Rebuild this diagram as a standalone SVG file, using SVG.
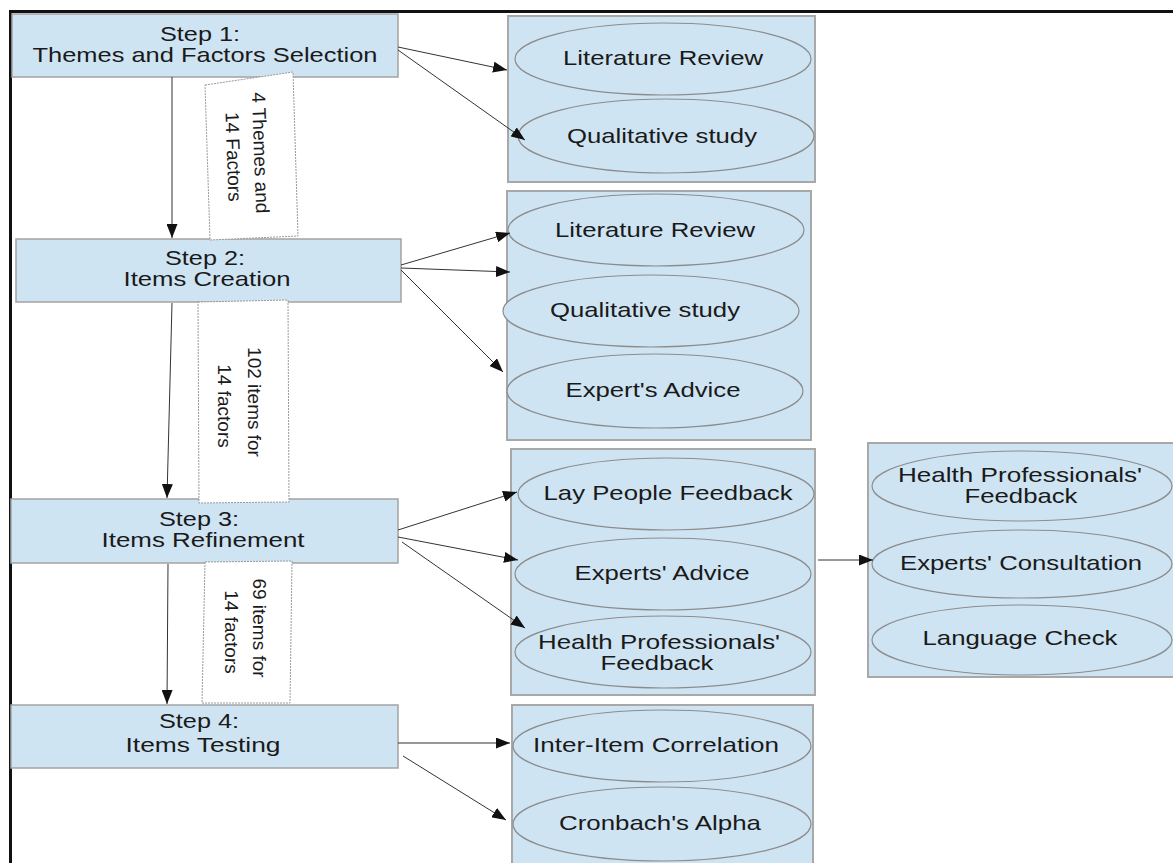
<svg xmlns="http://www.w3.org/2000/svg" width="1173" height="863" viewBox="0 0 1173 863">
<defs>
<style>
.step{fill:#cfe4f3;stroke:#a3a3a3;stroke-width:1.5}
.cont{fill:#cfe4f3;stroke:#a8a8a8;stroke-width:2}
.ell{fill:#cfe4f3;stroke:#8c8c8c;stroke-width:1.2}
.lbl{fill:#ffffff;stroke:#9a9a9a;stroke-width:1;stroke-dasharray:2 1}
text{font-family:"Liberation Sans",Arial,sans-serif;font-size:21px;fill:#1a1a1a}
.t{text-anchor:middle}
.r{font-size:19px;text-anchor:middle}
.c{fill:none;stroke:#333;stroke-width:1}
</style>
<marker id="ah" markerUnits="userSpaceOnUse" markerWidth="15" markerHeight="11" refX="14" refY="5.5" orient="auto">
<path d="M0,0 L14,5.5 L0,11 z" fill="#111"/>
</marker>
</defs>
<rect width="1173" height="863" fill="#ffffff"/>
<path d="M10.5,863 V11.5 H1173" fill="none" stroke="#111" stroke-width="3"/>

<g id="step1">
<rect class="step" x="12" y="14" width="386" height="63"/>
<text class="t" x="200" y="41" textLength="80" lengthAdjust="spacingAndGlyphs">Step 1:</text>
<text class="t" x="205" y="62" textLength="345" lengthAdjust="spacingAndGlyphs">Themes and Factors Selection</text>
</g>
<g id="step2">
<rect class="step" x="16" y="239" width="385" height="63"/>
<text class="t" x="205" y="265" textLength="80" lengthAdjust="spacingAndGlyphs">Step 2:</text>
<text class="t" x="207" y="286" textLength="167" lengthAdjust="spacingAndGlyphs">Items Creation</text>
</g>
<g id="step3">
<rect class="step" x="11" y="499" width="387" height="64"/>
<text class="t" x="199" y="526" textLength="80" lengthAdjust="spacingAndGlyphs">Step 3:</text>
<text class="t" x="203" y="547" textLength="203" lengthAdjust="spacingAndGlyphs">Items Refinement</text>
</g>
<g id="step4">
<rect class="step" x="11" y="705" width="387" height="63"/>
<text class="t" x="199" y="728" textLength="80" lengthAdjust="spacingAndGlyphs">Step 4:</text>
<text class="t" x="203" y="752" textLength="155" lengthAdjust="spacingAndGlyphs">Items Testing</text>
</g>

<g id="label1">
<polygon class="lbl" points="205,85 293,72 298,236 210,240"/>
<text class="r" transform="translate(254,153) rotate(88)">4 Themes and</text>
<text class="r" transform="translate(227,157) rotate(88)">14 Factors</text>
</g>
<g id="label2">
<polygon class="lbl" points="198,302 288,300 289,502 199,503"/>
<text class="r" transform="translate(248,402) rotate(90)">102 items for</text>
<text class="r" transform="translate(218,406) rotate(90)">14 factors</text>
</g>
<g id="label3">
<polygon class="lbl" points="205,562 292,561 290,703 202,703"/>
<text class="r" transform="translate(253,628) rotate(90)">69 items for</text>
<text class="r" transform="translate(225,632) rotate(90)">14 factors</text>
</g>

<g id="group1">
<rect class="cont" x="508" y="16" width="307" height="166"/>
<g id="g1-lit"><ellipse class="ell" cx="663" cy="59" rx="148" ry="36"/>
<text class="t" x="663" y="65" textLength="200" lengthAdjust="spacingAndGlyphs">Literature Review</text></g>
<g id="g1-qual"><ellipse class="ell" cx="666" cy="136" rx="148" ry="37"/>
<text class="t" x="662" y="143" textLength="190" lengthAdjust="spacingAndGlyphs">Qualitative study</text></g>
</g>

<g id="group2">
<rect class="cont" x="507" y="191" width="304" height="249"/>
<g id="g2-lit"><ellipse class="ell" cx="656" cy="230" rx="148" ry="36"/>
<text class="t" x="655" y="237" textLength="200" lengthAdjust="spacingAndGlyphs">Literature Review</text></g>
<g id="g2-qual"><ellipse class="ell" cx="651" cy="311" rx="148" ry="36"/>
<text class="t" x="645" y="317" textLength="190" lengthAdjust="spacingAndGlyphs">Qualitative study</text></g>
<g id="g2-exp"><ellipse class="ell" cx="655" cy="391" rx="148" ry="37"/>
<text class="t" x="653" y="397" textLength="175" lengthAdjust="spacingAndGlyphs">Expert's Advice</text></g>
</g>

<g id="group3">
<rect class="cont" x="511" y="449" width="304" height="246"/>
<g id="g3-lay"><ellipse class="ell" cx="666" cy="494" rx="148" ry="36"/>
<text class="t" x="668" y="500" textLength="249" lengthAdjust="spacingAndGlyphs">Lay People Feedback</text></g>
<g id="g3-exp"><ellipse class="ell" cx="663" cy="574" rx="148" ry="36"/>
<text class="t" x="662" y="580" textLength="175" lengthAdjust="spacingAndGlyphs">Experts' Advice</text></g>
<g id="g3-hp"><ellipse class="ell" cx="663" cy="652" rx="148" ry="36"/>
<text class="t" x="659" y="649" textLength="242" lengthAdjust="spacingAndGlyphs">Health Professionals'</text>
<text class="t" x="657" y="670" textLength="113" lengthAdjust="spacingAndGlyphs">Feedback</text></g>
</g>

<g id="group4">
<rect class="cont" x="868" y="443" width="306" height="234"/>
<g id="g4-hp"><ellipse class="ell" cx="1022" cy="486" rx="150" ry="35"/>
<text class="t" x="1020" y="482" textLength="244" lengthAdjust="spacingAndGlyphs">Health Professionals'</text>
<text class="t" x="1021" y="503" textLength="113" lengthAdjust="spacingAndGlyphs">Feedback</text></g>
<g id="g4-exp"><ellipse class="ell" cx="1022" cy="564" rx="150" ry="34"/>
<text class="t" x="1021" y="570" textLength="242" lengthAdjust="spacingAndGlyphs">Experts' Consultation</text></g>
<g id="g4-lang"><ellipse class="ell" cx="1022" cy="640" rx="150" ry="35"/>
<text class="t" x="1020" y="645" textLength="195" lengthAdjust="spacingAndGlyphs">Language Check</text></g>
</g>

<g id="group5">
<rect class="cont" x="512" y="705" width="301" height="170"/>
<g id="g5-iic"><ellipse class="ell" cx="662" cy="746" rx="149" ry="36"/>
<text class="t" x="656" y="752" textLength="246" lengthAdjust="spacingAndGlyphs">Inter-Item Correlation</text></g>
<g id="g5-ca"><ellipse class="ell" cx="662" cy="824" rx="149" ry="37"/>
<text class="t" x="660" y="830" textLength="202" lengthAdjust="spacingAndGlyphs">Cronbach's Alpha</text></g>
</g>

<g id="connectors">
<line class="c" x1="398" y1="47" x2="507" y2="70" marker-end="url(#ah)"/>
<line class="c" x1="398" y1="50" x2="525" y2="140" marker-end="url(#ah)"/>
<line class="c" x1="172" y1="77" x2="172" y2="238" marker-end="url(#ah)"/>
<line class="c" x1="401" y1="265" x2="510" y2="233" marker-end="url(#ah)"/>
<line class="c" x1="401" y1="268" x2="510" y2="272" marker-end="url(#ah)"/>
<line class="c" x1="401" y1="270" x2="503" y2="372" marker-end="url(#ah)"/>
<line class="c" x1="172" y1="303" x2="167" y2="498" marker-end="url(#ah)"/>
<line class="c" x1="398" y1="530" x2="517" y2="492" marker-end="url(#ah)"/>
<line class="c" x1="398" y1="537" x2="518" y2="560" marker-end="url(#ah)"/>
<line class="c" x1="402" y1="542" x2="525" y2="628" marker-end="url(#ah)"/>
<line class="c" x1="168" y1="564" x2="167" y2="704" marker-end="url(#ah)"/>
<line class="c" x1="818" y1="560" x2="873" y2="560" marker-end="url(#ah)"/>
<line class="c" x1="398" y1="743" x2="510" y2="743" marker-end="url(#ah)"/>
<line class="c" x1="403" y1="756" x2="506" y2="820" marker-end="url(#ah)"/>
</g>
</svg>
